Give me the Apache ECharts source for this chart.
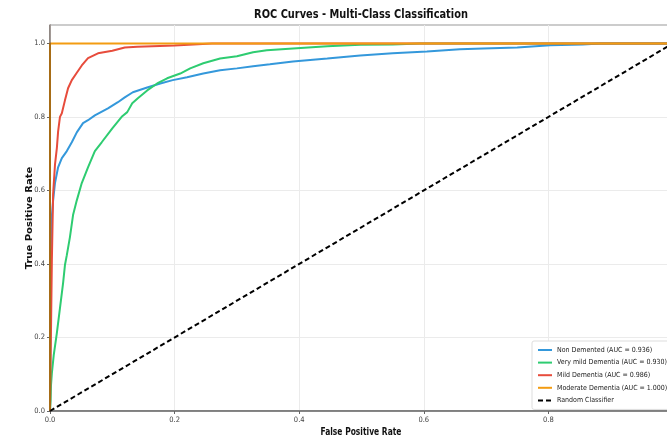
<!DOCTYPE html>
<html>
<head>
<meta charset="utf-8">
<script src="https://cdn.jsdelivr.net/npm/echarts@6/dist/echarts.min.js"></script>
<style>
html,body{margin:0;padding:0;background:#fff;}
#chart{width:667px;height:439px;}
</style>
</head>
<body>
<div id="chart"></div>
<script>
var chartTitle = 'ROC Curves - Multi-Class Classification';
var xAxisName = 'False Positive Rate';
var yAxisName = 'True Positive Rate';
var seriesNames = ['Non Demented (AUC = 0.936)', 'Very mild Dementia (AUC = 0.930)', 'Mild Dementia (AUC = 0.986)', 'Moderate Dementia (AUC = 1.000)', 'Random Classifier'];
var xTicks = [0.0, 0.2, 0.4, 0.6, 0.8, 1.0];
var yTicks = [0.0, 0.2, 0.4, 0.6, 0.8, 1.0];

var nonDementedFpr = [0, 0.001, 0.0016, 0.003, 0.005, 0.008, 0.013, 0.019, 0.027, 0.035, 0.043, 0.053, 0.061, 0.072, 0.093, 0.109, 0.12, 0.133, 0.156, 0.177, 0.197, 0.22, 0.246, 0.273, 0.30, 0.326, 0.353, 0.39, 0.445, 0.498, 0.55, 0.605, 0.658, 0.695, 0.75, 0.803, 0.855, 0.883, 1.0];
var nonDementedTpr = [0, 0.30, 0.465, 0.53, 0.573, 0.62, 0.663, 0.688, 0.707, 0.731, 0.758, 0.783, 0.791, 0.804, 0.823, 0.84, 0.853, 0.867, 0.88, 0.891, 0.90, 0.908, 0.918, 0.927, 0.932, 0.938, 0.943, 0.951, 0.959, 0.967, 0.973, 0.978, 0.984, 0.986, 0.989, 0.995, 0.997, 1.0, 1.0];

var veryMildFpr = [0, 0.001, 0.0016, 0.003, 0.006, 0.011, 0.016, 0.021, 0.024, 0.027, 0.032, 0.037, 0.043, 0.051, 0.061, 0.072, 0.083, 0.10, 0.116, 0.124, 0.132, 0.141, 0.156, 0.172, 0.188, 0.209, 0.225, 0.246, 0.273, 0.30, 0.326, 0.348, 0.39, 0.445, 0.498, 0.55, 0.594, 1.0];
var veryMildTpr = [0, 0.03, 0.07, 0.103, 0.152, 0.212, 0.28, 0.348, 0.397, 0.424, 0.473, 0.533, 0.573, 0.62, 0.663, 0.707, 0.731, 0.769, 0.802, 0.813, 0.837, 0.851, 0.872, 0.891, 0.905, 0.918, 0.932, 0.946, 0.959, 0.965, 0.976, 0.981, 0.986, 0.992, 0.996, 0.997, 1.0, 1.0];

var mildFpr = [0, 0.0016, 0.003, 0.005, 0.008, 0.011, 0.013, 0.016, 0.019, 0.024, 0.029, 0.035, 0.043, 0.051, 0.061, 0.077, 0.10, 0.12, 0.14, 0.2, 0.26, 1.0];
var mildTpr = [0, 0.22, 0.41, 0.59, 0.67, 0.715, 0.76, 0.80, 0.81, 0.845, 0.878, 0.90, 0.92, 0.94, 0.96, 0.973, 0.98, 0.989, 0.991, 0.994, 1.0, 1.0];

var moderateFpr = [0, 0, 1.0];
var moderateTpr = [0, 1.0, 1.0];

var randomFpr = [0, 1.0];
var randomTpr = [0, 1.0];

var colors = ['#3498db', '#2ecc71', '#e74c3c', '#f39c12', '#000000'];

function zip(a, b) { return a.map(function (v, i) { return [v, b[i]]; }); }

var FONT = 'DejaVu Sans Condensed';
var chart = echarts.init(document.getElementById('chart'), null, {renderer: 'canvas'});

function fmt(v) {
  var r = Math.round(v * 10) / 10;
  if (Math.abs(r - v) > 1e-6) return '';
  return r.toFixed(1);
}

var lineSeries = [
  {fpr: nonDementedFpr, tpr: nonDementedTpr},
  {fpr: veryMildFpr, tpr: veryMildTpr},
  {fpr: mildFpr, tpr: mildTpr},
  {fpr: moderateFpr, tpr: moderateTpr},
  {fpr: randomFpr, tpr: randomTpr}
].map(function (s, i) {
  return {
    name: seriesNames[i],
    type: 'line',
    data: zip(s.fpr, s.tpr),
    showSymbol: false,
    symbol: 'none',
    animation: false,
    z: 2 + i,
    lineStyle: {
      color: colors[i],
      width: 2,
      type: i === 4 ? [5, 3] : 'solid'
    },
    itemStyle: {color: colors[i]}
  };
});

chart.setOption({
  animation: false,
  backgroundColor: '#ffffff',
  graphic: [
    {type: 'text', x: 361, y: 15, scaleX: 0.84, z: 100,
     style: {text: chartTitle, font: 'bold 13px "DejaVu Sans Condensed"', fill: '#111', textAlign: 'center', textVerticalAlign: 'middle'}},
    {type: 'text', x: 361, y: 432, scaleX: 0.8, z: 100,
     style: {text: xAxisName, font: 'bold 10.5px "DejaVu Sans Condensed"', fill: '#111', textAlign: 'center', textVerticalAlign: 'middle'}},
    {type: 'text', x: 30, y: 218, rotation: Math.PI / 2, scaleY: 0.85, z: 100,
     style: {text: yAxisName, font: 'bold 10px "DejaVu Sans"', fill: '#111', textAlign: 'center', textVerticalAlign: 'middle'}}
  ],
  grid: {
    left: 50, top: 25, width: 623, height: 386,
    outerBoundsMode: 'none',
    containLabel: false,
    show: true, borderColor: '#999', borderWidth: 1, backgroundColor: 'transparent'
  },
  legend: {
    orient: 'vertical',
    left: 532,
    top: 341,
    itemWidth: 14,
    itemHeight: 10,
    itemGap: 4.6,
    padding: [5, 10, 5, 5],
    backgroundColor: '#fff',
    borderColor: '#ddd',
    borderWidth: 1,
    borderRadius: 2,
    itemStyle: {opacity: 0},
    textStyle: {fontFamily: FONT, fontSize: 7, color: '#222'},
    data: seriesNames
  },
  xAxis: {
    type: 'value',
    min: 0, max: 1.0, interval: 0.2,
    axisLine: {show: true, onZero: false, lineStyle: {color: '#666', width: 1.5}},
    axisTick: {show: true, length: 3, customValues: xTicks, lineStyle: {color: '#666'}},
    axisLabel: {fontFamily: FONT, fontSize: 7.5, color: '#444', margin: 5, customValues: xTicks, formatter: fmt},
    splitLine: {show: true, lineStyle: {color: '#ebebeb', width: 1}}
  },
  yAxis: [{
    type: 'value',
    min: 0, max: 1.05, interval: 0.2,
    axisLine: {show: false},
    axisTick: {show: true, length: 3, customValues: yTicks, lineStyle: {color: '#666'}},
    axisLabel: {fontFamily: FONT, fontSize: 7.5, color: '#444', margin: 5, customValues: yTicks, formatter: fmt},
    splitLine: {show: true, lineStyle: {color: '#ebebeb', width: 1}}
  }, {
    type: 'value',
    position: 'left',
    z: 10,
    min: 0, max: 1.05, interval: 0.2,
    axisLine: {show: true, onZero: false, lineStyle: {color: 'rgba(60,40,30,0.55)', width: 1.5}},
    axisTick: {show: false},
    axisLabel: {show: false},
    splitLine: {show: false}
  }],
  series: lineSeries
});
</script>
</body>
</html>
